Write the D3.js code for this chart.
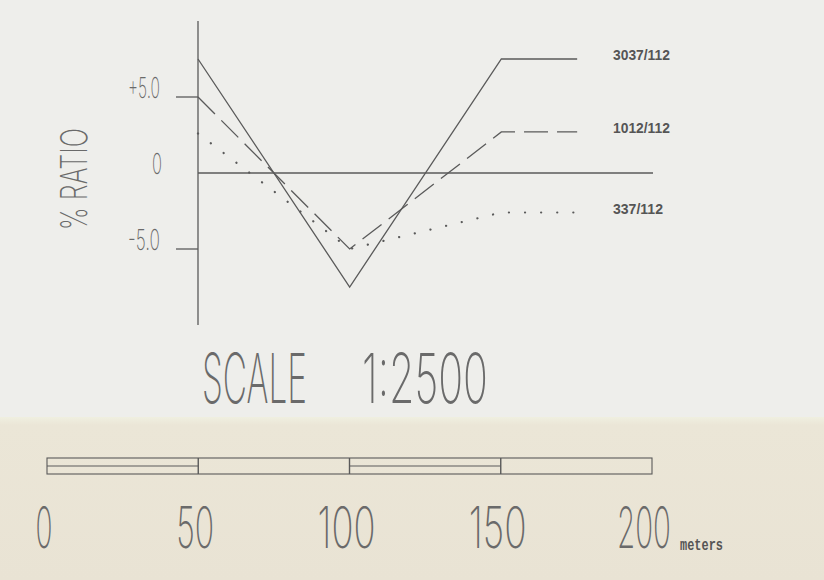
<!DOCTYPE html>
<html>
<head>
<meta charset="utf-8">
<script src="https://cdn.jsdelivr.net/npm/d3@7/dist/d3.min.js"></script>
<style>
  html, body { margin: 0; padding: 0; background: #eeeeeb; }
  svg { display: block; }
</style>
</head>
<body>
<script>
// ---- data ----
const xValues = [0, 100, 200, 250];
const seriesNames = ["3037/112", "1012/112", "337/112"];
const solidValues = [7.5, -7.5, 7.5, 7.5];
const dashedValues = [5.0, -5.0, 2.7, 2.7];
const dottedValues = [2.6, -5.0, -2.6, -2.6];
const yTickValues = [5, 0, -5];
const yTickLabels = ["+5.0", "0", "-5.0"];
const yAxisTitle = "% RATIO";
const scaleTitle = ["SCALE", "1:2500"];
const scaleBarValues = [0, 50, 100, 150, 200];
const scaleBarLabels = ["0", "50", "100", "150", "200"];
const scaleUnit = "meters";

const W = 824, H = 580;
const svg = d3.select("body").append("svg").attr("width", W).attr("height", H);

// background (two paper tones)
svg.append("rect").attr("x", 0).attr("y", 0).attr("width", W).attr("height", H).attr("fill", "#eeeeeb");
const grad = svg.append("defs").append("linearGradient").attr("id", "bg").attr("x1", 0).attr("y1", 0).attr("x2", 0).attr("y2", 1);
grad.append("stop").attr("offset", "0").attr("stop-color", "#efefe0");
grad.append("stop").attr("offset", "0.05").attr("stop-color", "#ebe6d7");
grad.append("stop").attr("offset", "1").attr("stop-color", "#e9e3d4");
svg.append("rect").attr("x", 0).attr("y", 417).attr("width", W).attr("height", H - 417).attr("fill", "url(#bg)");

const ink = "#5a5a5a";
const textInk = "#6a6a6a";
const font = "Inter, 'Liberation Sans', sans-serif";

// place a text horizontally compressed to a target width
// anchor: 0 = start, 0.5 = middle, 1 = end ; (px, py) = anchor point / baseline
function fitText(parent, str, px, py, width, opts) {
  const t = parent.append("text").attr("x", 0).attr("y", 0)
    .attr("font-family", opts.family || font)
    .attr("font-weight", opts.weight || 200)
    .attr("font-size", opts.size)
    .attr("fill", opts.fill || textInk)
    .text(str);
  const natural = t.node().getComputedTextLength() || width;
  const k = width / natural;
  const anchor = opts.anchor || 0;
  const x0 = px - anchor * width;
  if (opts.rotate) {
    t.attr("transform", `translate(${px},${py}) rotate(${opts.rotate}) translate(${-anchor * width},0) scale(${k},1)`);
  } else {
    t.attr("transform", `translate(${x0},${py}) scale(${k},1)`);
  }
  return t;
}

// scales
const x = d3.scaleLinear().domain([0, 300]).range([198, 653]);
const y = d3.scaleLinear().domain([-10, 10]).range([325, 21]);

// axis
svg.append("line").attr("x1", x(0)).attr("x2", x(0)).attr("y1", y(10)).attr("y2", y(-10))
  .attr("stroke", ink).attr("stroke-width", 1.3);
svg.append("line").attr("x1", x(0)).attr("x2", x(300)).attr("y1", y(0)).attr("y2", y(0))
  .attr("stroke", ink).attr("stroke-width", 1.3);
yTickValues.forEach((v, i) => {
  if (v !== 0) {
    svg.append("line").attr("x1", x(0) - 22).attr("x2", x(0)).attr("y1", y(v)).attr("y2", y(v))
      .attr("stroke", ink).attr("stroke-width", 1.3);
  }
  fitText(svg, yTickLabels[i], x(0) - (v === 0 ? 36 : 38), y(v) + 1, v === 0 ? 10 : 32,
    { size: 29, anchor: 1 });
});

// y title
fitText(svg, yAxisTitle, 87, 179, 102, { size: 37, anchor: 0.5, rotate: -90 });

// series
const line = d3.line().x((d, i) => x(xValues[i])).y(d => y(d));
const series = [
  { name: seriesNames[0], values: solidValues, dash: null, width: 1.3, cap: "butt", len: 57 },
  { name: seriesNames[1], values: dashedValues, dash: "24,9", width: 1.3, cap: "butt", len: 57 },
  { name: seriesNames[2], values: dottedValues, dash: "0.1,16", width: 2.2, cap: "round", len: 50 }
];
series.forEach(s => {
  const p = svg.append("path").attr("d", line(s.values)).attr("fill", "none")
    .attr("stroke", ink).attr("stroke-width", s.width).attr("stroke-linecap", s.cap);
  if (s.dash) p.attr("stroke-dasharray", s.dash);
  fitText(svg, s.name, 613, y(s.values[s.values.length - 1]) + 1, s.len,
    { size: 15, family: "'Liberation Sans', sans-serif", weight: "bold", fill: "#555" });
});

// SCALE title
fitText(svg, scaleTitle[0], 202, 403, 105, { size: 69 });
fitText(svg, scaleTitle[1], 362, 403, 126, { size: 69 });

// scale bar
const sx = d3.scaleLinear().domain([0, 200]).range([47, 652]);
const barTop = 458, barBot = 474, barMid = 466;
svg.append("rect").attr("x", sx(0)).attr("y", barTop).attr("width", sx(200) - sx(0)).attr("height", barBot - barTop)
  .attr("fill", "none").attr("stroke", ink).attr("stroke-width", 1.1);
scaleBarValues.slice(0, -1).forEach((v, i) => {
  if (i > 0) {
    svg.append("line").attr("x1", sx(v)).attr("x2", sx(v)).attr("y1", barTop).attr("y2", barBot)
      .attr("stroke", ink).attr("stroke-width", 1.4);
  }
  if (i % 2 === 0) {
    svg.append("line").attr("x1", sx(v)).attr("x2", sx(scaleBarValues[i + 1])).attr("y1", barMid).attr("y2", barMid)
      .attr("stroke", ink).attr("stroke-width", 1.1);
  }
});
const labelLens = { 1: 17, 2: 38, 3: 58 };
scaleBarValues.forEach((v, i) => {
  const lab = scaleBarLabels[i];
  const w = v === 200 ? 54 : labelLens[lab.length];
  const cx = v === 200 ? sx(v) - 8 : sx(v) - 3;
  fitText(svg, lab, cx, 548, w, { size: 57, anchor: 0.5 });
});
fitText(svg, scaleUnit, 680, 550, 43,
  { size: 17, family: "'Liberation Mono', monospace", weight: "bold", fill: "#555" });
</script>
</body>
</html>
